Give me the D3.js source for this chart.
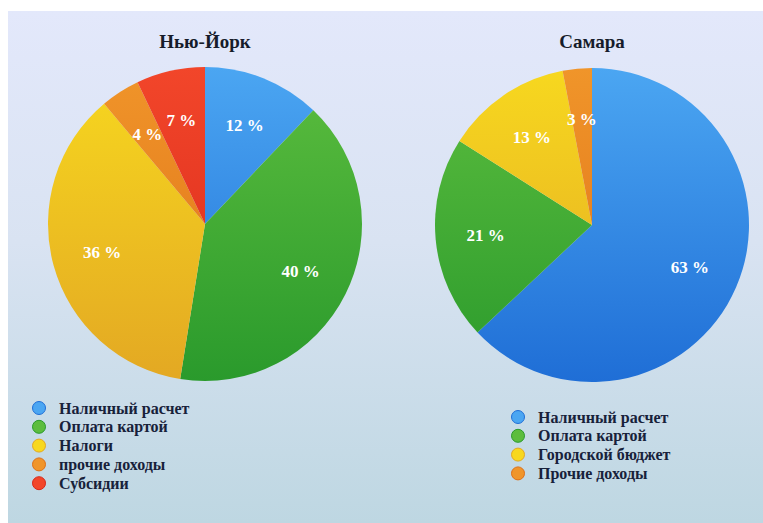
<!DOCTYPE html>
<html>
<head>
<meta charset="utf-8">
<script src="https://cdn.jsdelivr.net/npm/d3@7"></script>
<style>
  body { margin: 0; background: #fff; }
  svg { display: block; }
  text { font-family: 'Liberation Serif', 'Times New Roman', 'DejaVu Serif', serif; font-weight: bold; }
</style>
</head>
<body>
<svg></svg>
<script>
var width = 763;
var height = 523;

// Нью-Йорк
var nyLabels = ["Наличный расчет", "Оплата картой", "Налоги", "прочие доходы", "Субсидии"];
var nyValues = [12, 40, 36, 4, 7];
var nyColors = ["blue", "green", "yellow", "orange", "red"];

// Самара
var smLabels = ["Наличный расчет", "Оплата картой", "Городской бюджет", "Прочие доходы"];
var smValues = [63, 21, 13, 3];
var smColors = ["blue", "green", "yellow", "orange"];

// light / dark stops for each slice colour
var shades = {
    blue:   ["#4ba6f2", "#1f6ed6"],
    green:  ["#5cbd3e", "#2a9a2c"],
    yellow: ["#f7d81f", "#e3a823"],
    orange: ["#f0952a", "#de6f16"],
    red:    ["#f2462a", "#d8281a"]
};

var svg = d3.select('svg')
    .attr('width', width)
    .attr('height', height);

var defs = svg.append('defs');

var bg = defs.append('linearGradient')
    .attr('id', 'bg')
    .attr('x1', 0).attr('y1', 0).attr('x2', 0).attr('y2', 1);
bg.append('stop').attr('offset', '0%').attr('stop-color', '#e3e8fb');
bg.append('stop').attr('offset', '45%').attr('stop-color', '#d9e3f2');
bg.append('stop').attr('offset', '100%').attr('stop-color', '#bed7e2');

Object.keys(shades).forEach(function(k) {
    var g = defs.append('linearGradient')
        .attr('id', 'g-' + k)
        .attr('gradientUnits', 'userSpaceOnUse')
        .attr('x1', 0).attr('y1', -157).attr('x2', 0).attr('y2', 157);
    g.append('stop').attr('offset', '0%').attr('stop-color', shades[k][0]);
    g.append('stop').attr('offset', '100%').attr('stop-color', shades[k][1]);
});

svg.append('rect')
    .attr('x', 8).attr('y', 11)
    .attr('width', width - 8).attr('height', height - 11)
    .attr('fill', 'url(#bg)');

var radius = 157;

function makePie(cx, cy, title, labels, values, colors, legendX, legendY) {
    var arcs = d3.pie()
        .sort(null)
        .value(d => d)(values);

    var path = d3.arc()
        .innerRadius(0)
        .outerRadius(radius);

    var labelArc = d3.arc()
        .innerRadius(radius * 0.68)
        .outerRadius(radius * 0.68);

    var g = svg.append('g')
        .attr('transform', `translate(${cx}, ${cy})`);

    g.selectAll('.arc')
        .data(arcs)
        .enter()
        .append('path')
        .classed('arc', true)
        .attr('fill', (d, i) => 'url(#g-' + colors[i] + ')')
        .attr('d', path);

    g.selectAll('.lbl')
        .data(arcs)
        .enter()
        .append('text')
        .classed('lbl', true)
        .attr('transform', d => `translate(${labelArc.centroid(d)})`)
        .attr('text-anchor', 'middle')
        .attr('dy', '0.35em')
        .attr('fill', '#fff')
        .style('font-size', '17px')
        .text(d => d.data + ' %');

    svg.append('text')
        .attr('x', cx)
        .attr('y', 48)
        .attr('text-anchor', 'middle')
        .attr('fill', '#161c2a')
        .style('font-size', '19px')
        .text(title);

    //legend
    var leg = svg.append('g')
        .attr('transform', `translate(${legendX}, ${legendY})`);
    var item = leg.selectAll('.item')
        .data(labels)
        .enter()
        .append('g')
        .classed('item', true)
        .attr('transform', (d, i) => `translate(0, ${i * 18.8})`);
    item.append('circle')
        .attr('r', 6.5)
        .attr('fill', (d, i) => shades[colors[i]][0])
        .attr('stroke', (d, i) => shades[colors[i]][1])
        .attr('stroke-width', 1);
    item.append('text')
        .attr('x', 20)
        .attr('dy', '0.35em')
        .attr('fill', '#17213a')
        .style('font-size', '16px')
        .text(d => d);
}

makePie(205, 224, 'Нью-Йорк', nyLabels, nyValues, nyColors, 39, 408);
makePie(592, 225, 'Самара', smLabels, smValues, smColors, 518, 417);
</script>
</body>
</html>
